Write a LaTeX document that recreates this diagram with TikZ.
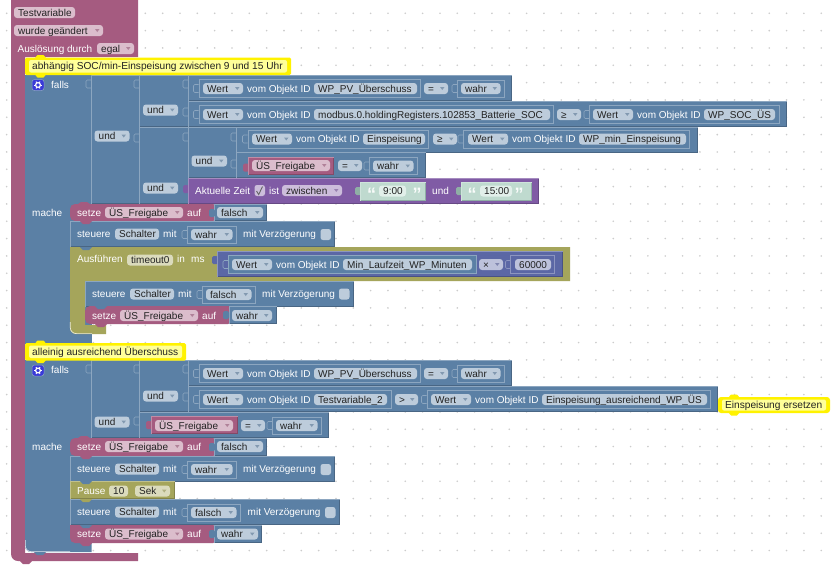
\documentclass[tikz,border=0pt]{standalone}
\usepackage{fontspec}
\setmainfont{Liberation Sans}
\usetikzlibrary{calc}
\definecolor{blkB}{HTML}{5B80A5}\definecolor{blkBl}{HTML}{8CA6C0}\definecolor{blkBd}{HTML}{496684}\definecolor{fldB}{HTML}{BDCCDB}\definecolor{triB}{HTML}{8299B0}
\definecolor{blkM}{HTML}{A55B80}\definecolor{blkMl}{HTML}{C08CA6}\definecolor{blkMd}{HTML}{844966}\definecolor{fldM}{HTML}{DBBDCC}\definecolor{triM}{HTML}{B08299}
\definecolor{blkO}{HTML}{A5A55B}\definecolor{blkOl}{HTML}{C0C08C}\definecolor{blkOd}{HTML}{848449}\definecolor{fldO}{HTML}{DBDBBD}\definecolor{triO}{HTML}{B0B082}
\definecolor{blkP}{HTML}{805BA5}\definecolor{blkPl}{HTML}{A68CC0}\definecolor{blkPd}{HTML}{664984}\definecolor{fldP}{HTML}{CCBDDB}\definecolor{triP}{HTML}{9982B0}
\definecolor{blkI}{HTML}{5B67A5}\definecolor{blkIl}{HTML}{8C95C0}\definecolor{blkId}{HTML}{495284}\definecolor{fldI}{HTML}{BDC2DB}\definecolor{triI}{HTML}{8288B0}
\definecolor{blkG}{HTML}{BFDACF}\definecolor{blkGl}{HTML}{CFE4DB}\definecolor{blkGd}{HTML}{8FAFA5}\definecolor{fldG}{HTML}{E2EFEA}
\definecolor{gridc}{HTML}{CCCCCC}\definecolor{fldY}{HTML}{FFFF99}\definecolor{txtc}{HTML}{222222}\definecolor{icn}{HTML}{3A3AD8}
\newcounter{nn}
\tikzset{
  lbl/.style={anchor=base west,inner sep=0pt,font=\fontsize{10}{12}\selectfont,text=white},
  ftx/.style={anchor=base west,inner sep=0pt,font=\fontsize{10}{12}\selectfont,text=txtc},
  ctx/.style={anchor=base west,inner sep=0pt,font=\fontsize{10.15}{12}\selectfont,text=txtc},
  qm/.style={anchor=base,inner sep=0pt,font=\fontsize{18}{18}\selectfont\bfseries,text=white!90!blkG}
}
\newcommand\blk[5]{\fill[blk#1] ({#2},{#3}) rectangle ({#4},{#5});
  \draw[blk#1d,line width=.7pt] ({#4-.3},{#3}) -- ({#4-.3},{#5-.3}) -- ({#2},{#5-.3});
  \draw[blk#1l,line width=.7pt] ({#2+.3},{#5}) -- ({#2+.3},{#3+.3}) -- ({#4},{#3+.3});}
\newcommand\rblk[5]{\fill[blk#1,rounded corners=5pt] ({#2},{#3}) rectangle ({#4},{#5});}
\newcommand\shd[5]{\fill[blk#1] ({#2},{#3}) rectangle ({#4},{#5});
  \draw[blk#1l,line width=.7pt] ({#2+.4},{#3+.4}) rectangle ({#4-.4},{#5-.4});}
\newcommand\fld[5]{\fill[fld#4,rounded corners=3pt] ({#1},{#2-5.5}) rectangle ({#3},{#2+5.5});
  \stepcounter{nn}\node[ftx] (t\arabic{nn}) at ({#1+4},{#2+3.5}) {#5};}
\newcommand\ddn[5]{\fld{#1}{#2}{#3}{#4}{#5}
  \fill[tri#4] ({#3-8},{#2-1.5}) -- ({#3-3.5},{#2-1.5}) -- ({#3-5.75},{#2+1.5}) -- cycle;}
\newcommand\lab[3]{\stepcounter{nn}\node[lbl] (t\arabic{nn}) at ({#1},{#2+3.5}) {#3};}
\newcommand\tab[3]{\fill[blk#3,rounded corners=1.5pt] ({#1-5},{#2-4}) rectangle ({#1+1},{#2+4});}
\newcommand\slt[3]{\draw[blk#3l,line width=.6pt,rounded corners=1.2pt] ({#1+5},{#2-4}) -- ({#1},{#2-4}) -- ({#1},{#2+4}) -- ({#1+5},{#2+4});}
\newcommand\bmp[3]{\fill[blk#3] ({#1},{#2}) -- ({#1+3},{#2+3}) -- ({#1+9},{#2+3}) -- ({#1+12},{#2}) -- cycle;}
\newcommand\bmpu[3]{\fill[blk#3] ({#1},{#2}) -- ({#1+3},{#2-2}) -- ({#1+9},{#2-2}) -- ({#1+12},{#2}) -- cycle;}
\newcommand\wert[4]{\ddn{#1}{#2}{#1+40}{B}{Wert}\lab{#1+44}{#2}{vom Objekt ID}\fld{#1+111}{#2}{#3}{B}{#4}}
\newcommand\cmt[7]{\fill[yellow,rounded corners=#7pt] ({#1},{#2}) rectangle ({#3},{#4});
  \fill[yellow] ({#5},{#2+1}) -- ({#5+3},{#2-2.5}) -- ({#5+9},{#2-2.5}) -- ({#5+12},{#2+1}) -- cycle;
  \fill[yellow] ({#5},{#4-1}) -- ({#5+3},{#4+2.5}) -- ({#5+9},{#4+2.5}) -- ({#5+12},{#4-1}) -- cycle;
  \fill[fldY,rounded corners=2pt] ({#1+4},{#2+2.5}) rectangle ({#3-4},{#4-2.5});
  \stepcounter{nn}\node[ctx] (t\arabic{nn}) at ({#1+7},{(#2+#4)/2+3.5}) {#6};}
\newcommand\gear[1]{\fill[icn,rounded corners=2.5pt,draw=blkBl,line width=.5pt] (32,{#1-5.5}) rectangle (44,{#1+5.5});
  \draw[white,line width=1.2pt] (38,#1) circle (2.4pt);
  \foreach \a in {0,60,...,300}{\draw[white,line width=.9pt] ($(38,#1)+(\a:2.6pt)$) -- ($(38,#1)+(\a:4pt)$);}}
\newcommand\chk[3]{\fill[fld#3,rounded corners=2.5pt] ({#1},{#2-5.5}) rectangle ({#1+10.5},{#2+5.5});}
\newcommand\wahrfalsch[4]{\shd{B}{#1}{#2-9}{#3}{#2+9}\slt{#1-5}{#2}{B}\ddn{#1+4}{#2}{#3-4.5}{B}{#4}}
\newcommand\steuere[6]{%
  \blk{B}{#1}{#2}{#3}{#2+25.5}
  \lab{#1+7}{#2+13}{steuere}\fld{#1+45}{#2+13}{#1+89}{B}{Schalter}\lab{#1+93}{#2+13}{mit}
  \wahrfalsch{#4}{#2+13.5}{#4+#6}{#5}
}
\begin{document}
\begin{tikzpicture}[x=1pt,y=-1pt]
\useasboundingbox (0,0) rectangle (834,568);
\fill[white] (0,0) rectangle (834,568);
\foreach \i in {0,...,47}{\foreach \j in {0,...,31}{\fill[gridc] ({6.7+17.33*\i},{13.3+17.33*\j}) circle (.9pt);}}

% hat block
\fill[blkM] (11,-12) -- (138,-12) -- (138,57) -- (25,57) -- (25,553) -- (138,553) -- (138,561) -- (32,561) -- (29,564) -- (23,564) -- (20,561) [rounded corners=7pt] -- (11,561) [sharp corners] -- (11,300) -- cycle;
\fld{14}{12.5}{75}{M}{Testvariable}
\ddn{14}{30.5}{103}{M}{wurde geändert}
\lab{17.5}{48.5}{Auslösung durch}
\ddn{97}{48.5}{134}{M}{egal}

% --- first if ---
\fill[blkB] (25,75) rectangle (91.5,344);
\gear{85}
\lab{51}{85}{falls}
\lab{32}{212.5}{mache}
\blk{B}{91}{75}{140}{204}
\slt{86}{84}{B}\slt{134}{84}{B}\slt{134}{138}{B}
\ddn{94.5}{136}{129.5}{B}{und}
\blk{B}{139}{75}{189}{127}
\ddn{143}{110}{178}{B}{und}
\slt{183}{84}{B}\slt{183}{112}{B}
\blk{B}{188}{75}{512}{101}
\slt{193.5}{88.5}{B}\shd{B}{199}{79}{421}{98}
\wert{203}{88.5}{417}{WP\_PV\_Überschuss}
\ddn{424}{88.5}{448}{B}{=}
\wahrfalsch{457}{88.5}{505}{wahr}
\blk{B}{188}{101}{787}{127}
\slt{193.5}{114.5}{B}\shd{B}{199}{105}{554}{124}
\wert{203}{114.5}{550}{modbus.0.holdingRegisters.102853\_Batterie\_SOC}
\ddn{557}{114.5}{581}{B}{≥}
\slt{584}{114.5}{B}\shd{B}{589}{105}{780}{124}
\wert{593}{114.5}{775}{WP\_SOC\_ÜS}
\blk{B}{139}{127}{189}{204}
\ddn{143}{188}{178}{B}{und}
\slt{183}{137}{B}
\blk{B}{188}{127}{237}{178}
\ddn{191.5}{161}{227}{B}{und}
\slt{231}{137}{B}\slt{231}{164}{B}
\blk{B}{236}{127}{698}{152.3}
\slt{242.5}{139}{B}\shd{B}{248}{130}{429}{149}
\wert{252}{139}{425}{Einspeisung}
\ddn{433}{139}{457}{B}{≥}
\slt{458}{139}{B}\shd{B}{463}{130}{690}{149}
\wert{468}{139}{686}{WP\_min\_Einspeisung}
\blk{B}{236}{152}{426}{178}
\tab{248}{167.5}{M}\blk{M}{248}{157}{334}{175}
\ddn{252}{165.5}{330}{M}{ÜS\_Freigabe}
\ddn{338}{165.5}{362}{B}{=}
\wahrfalsch{369}{166}{418}{wahr}
% purple row
\tab{188}{189}{P}\blk{P}{188}{178}{539}{204}
\lab{195}{190.5}{Aktuelle Zeit}
\chk{254.5}{190.5}{P}
\draw[txtc!70,line width=.9pt] (256.5,191) -- (258.7,194.5) -- (262.5,186.5);
\lab{269}{190.5}{ist}
\ddn{282}{190.5}{342}{P}{zwischen}
\tab{360}{191}{Gd}\blk{G}{360}{182}{426}{201}
\node[qm] (qa) at (371.5,200) {“};
\fld{379}{191}{406}{G}{9:00}
\node[qm] (qb) at (417,200) {”};
\lab{432}{190.5}{und}
\tab{461}{191}{Gd}\blk{G}{461}{182}{532}{201}
\node[qm] (qc) at (472,200) {“};
\fld{480}{191}{512}{G}{15:00}
\node[qm] (qd) at (519,200) {”};

% statements first if
\bmpu{78}{204}{M}
\rblk{M}{70}{204}{218}{221}
\blk{B}{214}{204}{267}{221}\tab{214}{213}{B}
\lab{77}{212.5}{setze}\ddn{105}{212.5}{183}{M}{ÜS\_Freigabe}\lab{187}{212.5}{auf}
\ddn{217}{212.5}{263}{B}{falsch}
\steuere{70}{221}{335}{187}{wahr}{50}
\lab{243}{234}{mit Verzögerung}\chk{320.5}{234.5}{B}
\bmp{80}{221}{M}
\fill[blkO] (70,247) -- (570,247) -- (570,281) -- (85,281) -- (85,325) -- (106,325) -- (106,334) [rounded corners=6pt] -- (70,334) [sharp corners] -- (70,300) -- cycle;
\draw[white!75!blkO,line width=.7pt,rounded corners=6pt] (70.3,322) -- (70.3,333.6) -- (92,333.6);
\bmp{80}{247}{B}
\lab{77}{259}{Ausführen}\fld{127}{260}{173}{O}{timeout0}\lab{177}{259}{in}\lab{191}{259}{ms}
\tab{217}{260}{I}\blk{I}{217}{251}{563}{277}
\slt{223}{264.5}{B}\shd{B}{228}{255}{477}{274}
\wert{232}{264.5}{472}{Min\_Laufzeit\_WP\_Minuten}
\ddn{479}{264.5}{503}{I}{×}
\slt{505.5}{264.5}{I}\shd{I}{510}{255}{555}{274}
\fld{515}{264.5}{551}{I}{60000}
\steuere{85}{281}{354}{202}{falsch}{54}
\lab{262}{294}{mit Verzögerung}\chk{339}{294}{B}
\rblk{M}{85}{306}{233}{324}
\blk{B}{229}{306}{277}{324}\tab{228}{315}{B}
\lab{92}{315.5}{setze}\ddn{120}{315.5}{198}{M}{ÜS\_Freigabe}\lab{202}{315.5}{auf}
\ddn{232}{315.5}{272}{B}{wahr}
\bmp{95}{306}{B}\bmp{95}{324}{M}

% --- second if ---
\fill[blkB] (25,360) -- (91.5,360) -- (91.5,552) [rounded corners=6pt] -- (25,552) [sharp corners] -- cycle;
\draw[white!80!blkB,line width=.6pt,rounded corners=6pt] (25.3,540) -- (25.3,551.7) -- (70,551.7);
\bmp{34}{552}{B}
\gear{370.5}
\lab{51}{370}{falls}
\lab{32}{446.5}{mache}
\blk{B}{91}{360}{140}{438}
\slt{86}{369}{B}\slt{134}{369}{B}\slt{134}{421}{B}
\ddn{94.5}{422}{129.5}{B}{und}
\blk{B}{139}{360}{189}{412}
\ddn{143}{396}{178}{B}{und}
\slt{183}{369}{B}\slt{183}{397}{B}
\blk{B}{188}{360}{512}{386}
\slt{193.5}{373.5}{B}\shd{B}{199}{364}{421}{383}
\wert{203}{373.5}{417}{WP\_PV\_Überschuss}
\ddn{424}{373.5}{448}{B}{=}
\wahrfalsch{457}{373.5}{505}{wahr}
\blk{B}{188}{386}{718}{412}
\slt{193.5}{399.5}{B}\shd{B}{199}{390}{392}{409}
\wert{203}{399.5}{387}{Testvariable\_2}
\ddn{395}{399.5}{418}{B}{>}
\slt{421.5}{399.5}{B}\shd{B}{427}{390}{711}{409}
\wert{431}{399.5}{707}{Einspeisung\_ausreichend\_WP\_ÜS}
\blk{B}{139}{412}{329}{438}
\tab{151}{425}{M}\blk{M}{151}{416}{238}{434}
\ddn{155}{425.5}{233}{M}{ÜS\_Freigabe}
\ddn{241}{425.5}{265}{B}{=}
\wahrfalsch{272}{425.5}{322}{wahr}
% statements second if
\bmpu{78}{438}{M}
\rblk{M}{70}{438}{218}{456}
\blk{B}{214}{438}{267}{456}\tab{214}{447}{B}
\lab{77}{446.5}{setze}\ddn{105}{446.5}{183}{M}{ÜS\_Freigabe}\lab{187}{446.5}{auf}
\ddn{217}{446.5}{263}{B}{falsch}
\steuere{70}{456}{335}{187}{wahr}{50}
\lab{243}{469}{mit Verzögerung}\chk{320.5}{469.5}{B}
\bmp{80}{456}{M}
\blk{O}{70}{481}{175}{499}
\bmp{80}{481}{B}
\lab{77}{490.5}{Pause}\fld{109}{491}{128}{O}{10}\ddn{135}{491}{170}{O}{Sek}
\steuere{70}{499}{339.7}{187}{falsch}{54}
\lab{247.5}{512}{mit Verzögerung}\chk{325}{512.5}{B}
\bmp{80}{499}{O}
\rblk{M}{70}{525}{218}{543}
\fill[blkM] (70,525) rectangle (80,530);
\blk{B}{214}{525}{262}{543}\tab{214}{534}{B}
\lab{77}{534}{setze}\ddn{105}{534}{183}{M}{ÜS\_Freigabe}\lab{187}{534}{auf}
\ddn{217}{534}{258}{B}{wahr}
\bmp{80}{525}{B}\bmp{80}{543}{M}

% comments
\cmt{25}{57.5}{291}{75}{34.5}{abhängig SOC/min-Einspeisung zwischen 9 und 15 Uhr}{1.5}
\cmt{25}{343}{186}{360.5}{34.5}{alleinig ausreichend Überschuss}{1.5}
\cmt{718}{397}{830}{413}{728}{Einspeisung ersetzen}{3}
\end{tikzpicture}
\end{document}
